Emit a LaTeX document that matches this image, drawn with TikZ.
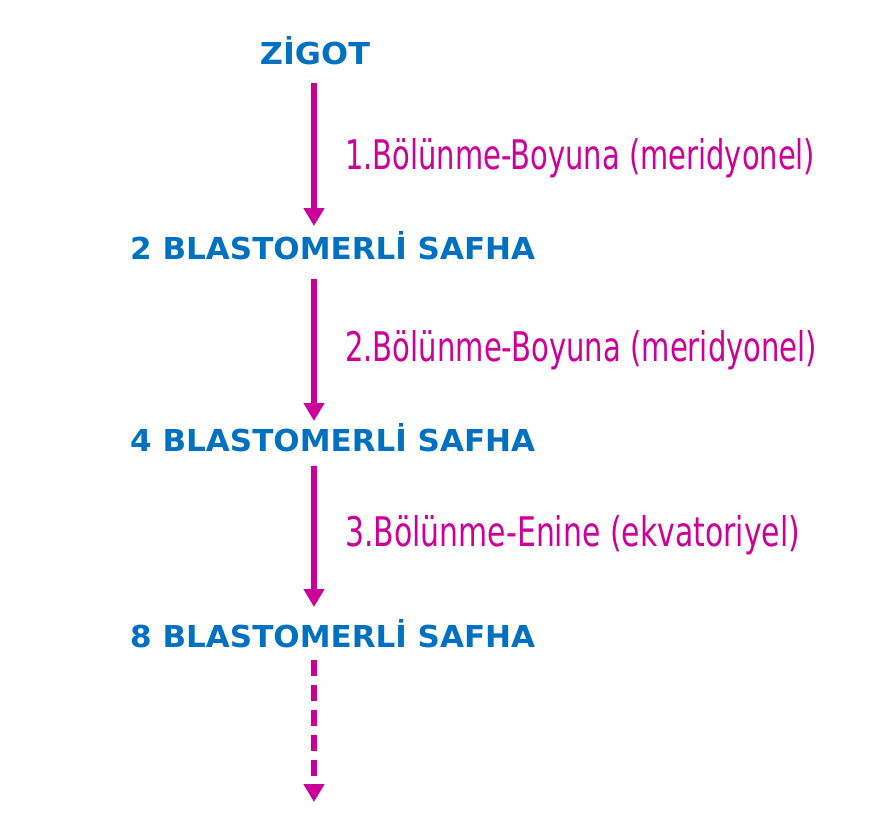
\documentclass[tikz,border=0pt]{standalone}
\usepackage{fontspec}
\usetikzlibrary{arrows.meta}
\setmainfont{DejaVu Sans}
\definecolor{tblue}{RGB}{0,112,192}
\definecolor{tmag}{RGB}{204,0,153}
\newcommand{\stg}[2]{\resizebox{#1}{28pt}{\bfseries #2}}
\newcommand{\lb}[2]{\resizebox{#1}{31pt}{#2}}
\begin{document}
\begin{tikzpicture}[x=1pt,y=-1pt,
  stage/.style={text=tblue,inner sep=0pt},
  lbl/.style={text=tmag,inner sep=0pt,anchor=west},
  arr/.style={draw=tmag,line width=6pt,-{Triangle[length=18pt,width=20pt]}}]
\useasboundingbox (0,0) rectangle (879,822);
\node[stage] (z) at (315,51) {\stg{110pt}{ZİGOT}};
\node[stage,anchor=west] (s2) at (130,246) {\stg{405pt}{2 BLASTOMERLİ SAFHA}};
\node[stage,anchor=west] (s4) at (130,438) {\stg{405pt}{4 BLASTOMERLİ SAFHA}};
\node[stage,anchor=west] (s8) at (130,634) {\stg{405pt}{8 BLASTOMERLİ SAFHA}};
\coordinate (a1s) at (314,83); \coordinate (a1e) at (314,226);
\coordinate (a2s) at (314,279); \coordinate (a2e) at (314,421);
\coordinate (a3s) at (314,466); \coordinate (a3e) at (314,607);
\coordinate (a4s) at (314,660); \coordinate (a4e) at (314,802);
\draw[arr] (a1s) -- (a1e);
\draw[arr] (a2s) -- (a2e);
\draw[arr] (a3s) -- (a3e);
\draw[arr,dash pattern=on 16pt off 9pt] (a4s) -- (a4e);
\node[lbl] (l1) at (345,158) {\lb{470pt}{1.Bölünme-Boyuna (meridyonel)}};
\node[lbl] (l2) at (345,350) {\lb{472pt}{2.Bölünme-Boyuna (meridyonel)}};
\node[lbl] (l3) at (345,535) {\lb{455pt}{3.Bölünme-Enine (ekvatoriyel)}};
\end{tikzpicture}
\end{document}
